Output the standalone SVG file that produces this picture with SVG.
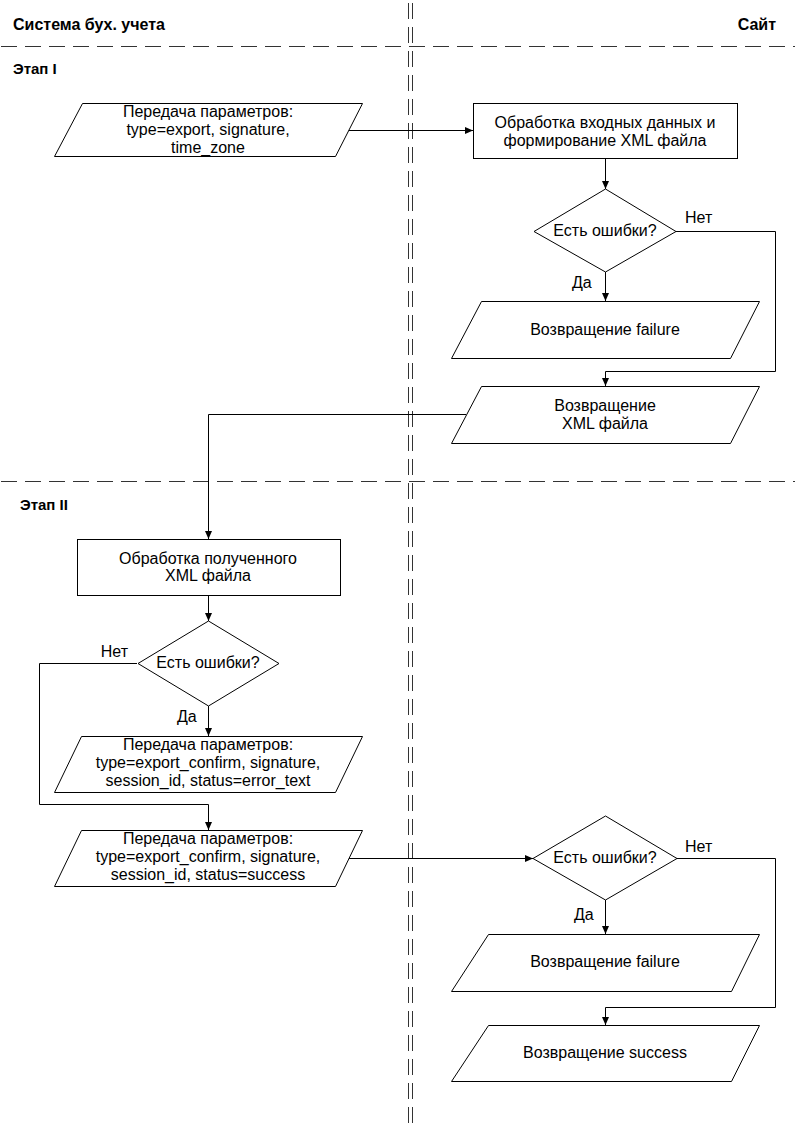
<svg xmlns="http://www.w3.org/2000/svg" width="795" height="1123" viewBox="0 0 795 1123">
<defs>
<style>
.bg{fill:#fff}
.shape{fill:#fff;stroke:#000;stroke-width:1}
.t{font-family:"Liberation Sans",Arial,sans-serif;font-size:16px;fill:#000;text-anchor:middle}
.lbl{font-family:"Liberation Sans",Arial,sans-serif;font-size:16px;fill:#000}
.h{font-family:"Liberation Sans",Arial,sans-serif;font-weight:bold;fill:#000}
.conn{fill:none;stroke:#000;stroke-width:1}
.dh{fill:none;stroke:#333;stroke-width:1;stroke-dasharray:16 8;stroke-dashoffset:23}
.dv{fill:none;stroke:#333;stroke-width:1;stroke-dasharray:16 8;stroke-dashoffset:21}
</style>
<marker id="arr" markerUnits="userSpaceOnUse" markerWidth="8" markerHeight="7" refX="8" refY="3.5" orient="auto">
<path d="M0,0 L8,3.5 L0,7 z" fill="#000"/>
</marker>
</defs>
<rect class="bg" x="0" y="0" width="795" height="1123"/>

<g id="lanes">
<line class="dh" x1="0" y1="46.5" x2="795" y2="46.5"/>
<line class="dh" x1="0" y1="481.5" x2="795" y2="481.5"/>
<line class="dv" x1="408.5" y1="0" x2="408.5" y2="1123"/>
<line class="dv" x1="412.5" y1="0" x2="412.5" y2="1123"/>
<text class="h" x="13" y="30" font-size="16">Система бух. учета</text>
<text class="h" x="776" y="30" font-size="16" text-anchor="end">Сайт</text>
<text class="h" x="13" y="74" font-size="15">Этап I</text>
<text class="h" x="20" y="510" font-size="15">Этап II</text>
</g>

<g id="connectors">
<path class="conn" d="M348.5,130.5 H473" marker-end="url(#arr)"/>
<path class="conn" d="M605.5,158 V189" marker-end="url(#arr)"/>
<path class="conn" d="M605.5,272 V301" marker-end="url(#arr)"/>
<path class="conn" d="M676,231.5 H775.5 V371.5 H605.5 V386" marker-end="url(#arr)"/>
<path class="conn" d="M466,414.5 H208.5 V539" marker-end="url(#arr)"/>
<path class="conn" d="M208.5,596 V621" marker-end="url(#arr)"/>
<path class="conn" d="M208.5,706 V736" marker-end="url(#arr)"/>
<path class="conn" d="M137,663.5 H39.5 V804.5 H208.5 V830" marker-end="url(#arr)"/>
<path class="conn" d="M348.5,858.5 H533" marker-end="url(#arr)"/>
<path class="conn" d="M605.5,900 V934" marker-end="url(#arr)"/>
<path class="conn" d="M677,858.5 H775.5 V1007.5 H605.5 V1025" marker-end="url(#arr)"/>
<text class="lbl" x="572" y="288">Да</text>
<text class="lbl" x="685" y="223">Нет</text>
<text class="lbl" x="177" y="722">Да</text>
<text class="lbl" x="128" y="657" text-anchor="end">Нет</text>
<text class="lbl" x="574" y="920">Да</text>
<text class="lbl" x="685" y="852">Нет</text>
</g>

<g id="n1">
<polygon class="shape" points="82.5,103.5 362.5,103.5 335.5,156.5 54.5,156.5"/>
<text class="t" x="208" y="117">Передача параметров:</text>
<text class="t" x="208" y="135">type=export, signature,</text>
<text class="t" x="208" y="153">time_zone</text>
</g>

<g id="n2">
<rect class="shape" x="473.5" y="103.5" width="264" height="55"/>
<text class="t" x="605" y="127.5">Обработка входных данных и</text>
<text class="t" x="605" y="145.5">формирование XML файла</text>
</g>

<g id="n3">
<polygon class="shape" points="605.5,189 676,231.5 605.5,272 534,231.5"/>
<text class="t" x="605" y="236">Есть ошибки?</text>
</g>

<g id="n4">
<polygon class="shape" points="481.5,301.5 759.5,301.5 730.5,358.5 451.5,358.5"/>
<text class="t" x="605" y="335">Возвращение failure</text>
</g>

<g id="n5">
<polygon class="shape" points="481.5,386.5 759.5,386.5 730.5,443.5 451.5,443.5"/>
<text class="t" x="605" y="410.5">Возвращение</text>
<text class="t" x="605" y="428.5">XML файла</text>
</g>

<g id="n6">
<rect class="shape" x="77.5" y="539.5" width="263" height="56"/>
<text class="t" x="208" y="563.5">Обработка полученного</text>
<text class="t" x="208" y="581">XML файла</text>
</g>

<g id="n7">
<polygon class="shape" points="208.5,621 279,663.5 208.5,706 138,663.5"/>
<text class="t" x="208" y="668">Есть ошибки?</text>
</g>

<g id="n8">
<polygon class="shape" points="81.5,736.5 362.5,736.5 335.5,792.5 54.5,792.5"/>
<text class="t" x="208" y="750">Передача параметров:</text>
<text class="t" x="208" y="768">type=export_confirm, signature,</text>
<text class="t" x="208" y="786">session_id, status=error_text</text>
</g>

<g id="n9">
<polygon class="shape" points="81.5,830.5 362.5,830.5 335.5,886.5 54.5,886.5"/>
<text class="t" x="208" y="844">Передача параметров:</text>
<text class="t" x="208" y="862">type=export_confirm, signature,</text>
<text class="t" x="208" y="880">session_id, status=success</text>
</g>

<g id="n10">
<polygon class="shape" points="605.5,816 677,858.5 605.5,900 533,858.5"/>
<text class="t" x="605" y="863">Есть ошибки?</text>
</g>

<g id="n11">
<polygon class="shape" points="488.5,934.5 759.5,934.5 731.5,991.5 451.5,991.5"/>
<text class="t" x="605" y="967">Возвращение failure</text>
</g>

<g id="n12">
<polygon class="shape" points="488.5,1025.5 759.5,1025.5 731.5,1081.5 451.5,1081.5"/>
<text class="t" x="605" y="1058">Возвращение success</text>
</g>
</svg>
